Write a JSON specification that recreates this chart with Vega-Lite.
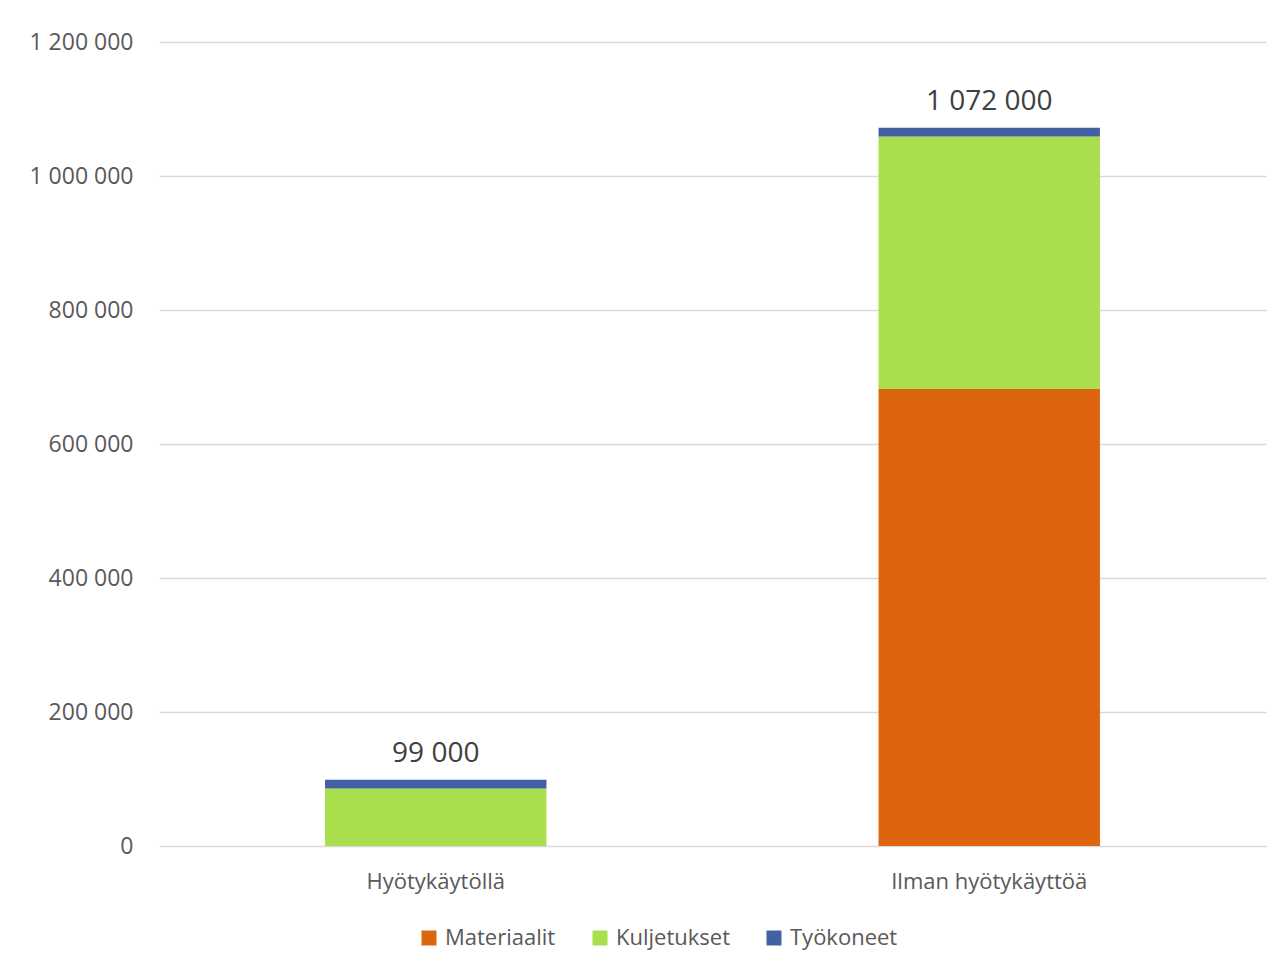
{
  "$schema": "https://vega.github.io/schema/vega-lite/v6.json",
  "width": 1107,
  "height": 804,
  "autosize": {"type": "none"},
  "padding": {"left": 159, "top": 42, "right": 18, "bottom": 124},
  "background": "#ffffff",
  "data": {
    "values": [
      {"kohde": "Hyötykäytöllä", "luokka": "Materiaalit", "jarjestys": 1, "arvo": 0},
      {"kohde": "Hyötykäytöllä", "luokka": "Kuljetukset", "jarjestys": 2, "arvo": 86000},
      {"kohde": "Hyötykäytöllä", "luokka": "Työkoneet", "jarjestys": 3, "arvo": 13000},
      {"kohde": "Ilman hyötykäyttöä", "luokka": "Materiaalit", "jarjestys": 1, "arvo": 682000},
      {"kohde": "Ilman hyötykäyttöä", "luokka": "Kuljetukset", "jarjestys": 2, "arvo": 377000},
      {"kohde": "Ilman hyötykäyttöä", "luokka": "Työkoneet", "jarjestys": 3, "arvo": 13000}
    ]
  },
  "encoding": {
    "x": {
      "field": "kohde",
      "type": "nominal",
      "sort": ["Hyötykäytöllä", "Ilman hyötykäyttöä"],
      "scale": {"paddingInner": 0.6, "paddingOuter": 0.3},
      "axis": {
        "title": null,
        "labelAngle": 0,
        "ticks": false,
        "domain": false,
        "labelLimit": 0,
        "labelFont": "Open Sans",
        "labelFontSize": 22,
        "labelColor": "#595959",
        "labelPadding": 25
      }
    }
  },
  "layer": [
    {
      "mark": {"type": "bar"},
      "encoding": {
        "y": {
          "field": "arvo",
          "type": "quantitative",
          "aggregate": "sum",
          "stack": "zero",
          "scale": {"domain": [0, 1200000], "nice": false},
          "axis": {
            "title": null,
            "values": [0, 200000, 400000, 600000, 800000, 1000000, 1200000],
            "format": ",.0f",
            "ticks": false,
            "domain": false,
            "grid": true,
            "gridColor": "#d9d9d9",
            "gridWidth": 1.5,
            "labelFont": "Open Sans",
            "labelFontSize": 23,
            "labelColor": "#595959",
            "labelPadding": 26
          }
        },
        "color": {
          "field": "luokka",
          "type": "nominal",
          "sort": ["Materiaalit", "Kuljetukset", "Työkoneet"],
          "scale": {
            "domain": ["Materiaalit", "Kuljetukset", "Työkoneet"],
            "range": ["#DC650D", "#A9DF4C", "#4360A7"]
          },
          "legend": {
            "title": null,
            "orient": "none",
            "legendX": 259,
            "legendY": 885,
            "direction": "horizontal",
            "symbolType": "square",
            "symbolSize": 225,
            "symbolStrokeWidth": 0,
            "labelFont": "Open Sans",
            "labelFontSize": 22,
            "labelColor": "#595959",
            "columnPadding": 33,
            "labelOffset": 5
          }
        },
        "order": {"field": "jarjestys", "type": "quantitative", "sort": "ascending"}
      }
    },
    {
      "mark": {
        "type": "text",
        "baseline": "bottom",
        "dy": -12,
        "font": "Open Sans",
        "fontSize": 28,
        "color": "#404040"
      },
      "encoding": {
        "y": {"field": "arvo", "type": "quantitative", "aggregate": "sum"},
        "text": {"field": "arvo", "type": "quantitative", "aggregate": "sum", "format": ",.0f"}
      }
    }
  ],
  "config": {
    "view": {"stroke": null},
    "locale": {
      "number": {"decimal": ",", "thousands": " ", "grouping": [3], "currency": ["", " €"]}
    }
  }
}
